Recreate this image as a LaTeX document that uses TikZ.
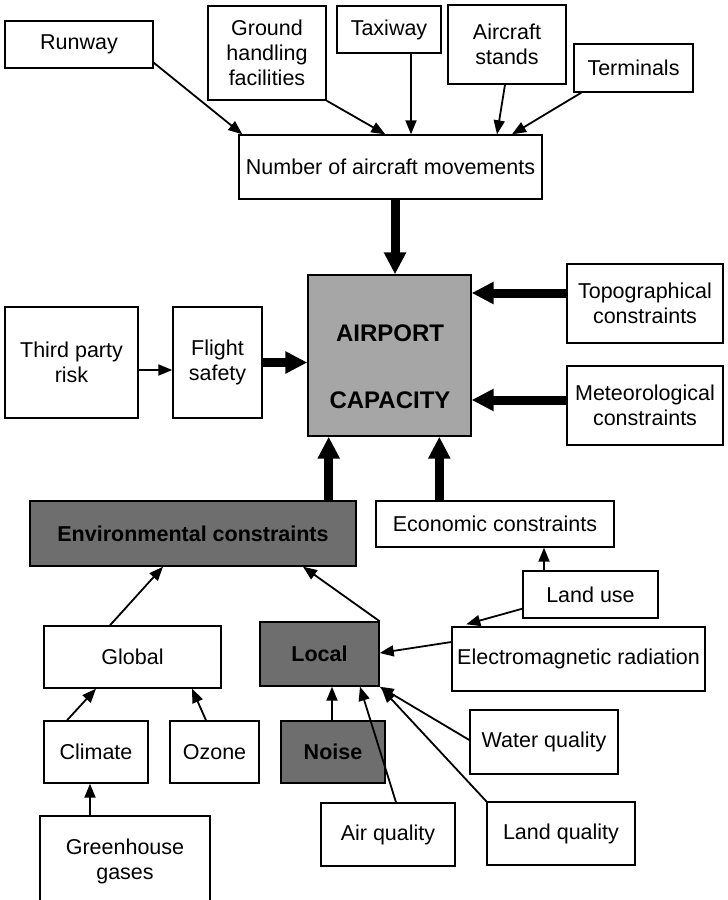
\documentclass[tikz,border=0pt]{standalone}
\usepackage{fontspec}
\setmainfont{Liberation Sans}
\usetikzlibrary{arrows.meta,calc}
\definecolor{capgray}{gray}{0.65}
\definecolor{envgray}{gray}{0.43}
\newcommand{\fsz}{\fontsize{21.5}{25}\selectfont}
\tikzset{
  box/.style={draw, line width=1.4pt, inner sep=0pt, align=center, font=\fsz, fill=white},
  darkbox/.style={box, fill=envgray, font=\fsz\bfseries},
  thin/.style={line width=1.8pt, -{Triangle[length=14pt,width=11pt]}},
  thick/.style={line width=9pt, -{Triangle[length=22pt,width=21pt]}},
  bold/.style={font=\fontsize{24}{28}\selectfont\bfseries, inner sep=0pt}
}
\begin{document}
\begin{tikzpicture}[x=1pt,y=-1pt]
\useasboundingbox (0,0) rectangle (728,900);
\clip (0,0) rectangle (728,900);
% top row
\node[box, minimum width=148pt, minimum height=47pt] (runway) at (79,44.5) {Runway};
\node[box, minimum width=118pt, minimum height=94pt] (ground) at (267,53) {Ground\\handling\\facilities};
\node[box, minimum width=104pt, minimum height=47pt] (taxiway) at (389,29.5) {Taxiway};
\node[box, minimum width=118pt, minimum height=79pt] (stands) at (507,44.5) {Aircraft\\stands};
\node[box, minimum width=119pt, minimum height=48pt] (terminals) at (633.5,68) {Terminals};
\node[box, minimum width=303pt, minimum height=64pt] (number) at (390.5,167) {Number of aircraft movements};
% middle
\node[box, minimum width=133pt, minimum height=111pt] (third) at (71.5,362.5) {Third party\\risk};
\node[box, minimum width=89pt, minimum height=111pt] (flight) at (217.5,362.5) {Flight\\safety};
\node[box, fill=capgray, minimum width=163pt, minimum height=161pt] (airport) at (389.5,355.5) {};
\node[bold] (apt1) at (390,333) {AIRPORT};
\node[bold] (apt2) at (390,400) {CAPACITY};
\node[box, minimum width=156pt, minimum height=79pt] (topo) at (645,303.5) {Topographical\\constraints};
\node[box, minimum width=156pt, minimum height=79pt] (meteo) at (645,405.5) {Meteorological\\constraints};
% lower
\node[darkbox, minimum width=326pt, minimum height=65pt] (env) at (193,533.5) {Environmental constraints};
\node[box, minimum width=238pt, minimum height=46pt] (econ) at (495,524) {Economic constraints};
\node[box, minimum width=135pt, minimum height=47pt] (landuse) at (590.5,594.5) {Land use};
\node[box, minimum width=177pt, minimum height=62pt] (global) at (132.5,657) {Global};
\node[darkbox, minimum width=119pt, minimum height=64pt] (local) at (319.5,654) {Local};
\node[box, minimum width=253pt, minimum height=64pt] (electro) at (578.5,659) {Electromagnetic radiation};
\node[box, minimum width=104pt, minimum height=62pt] (climate) at (96,752) {Climate};
\node[box, minimum width=89pt, minimum height=62pt] (ozone) at (214.5,752) {Ozone};
\node[darkbox, minimum width=104pt, minimum height=62pt] (noise) at (333,752) {Noise};
\node[box, minimum width=148pt, minimum height=64pt] (water) at (544,742) {Water quality};
\node[box, minimum width=134pt, minimum height=63pt] (air) at (388,834.5) {Air quality};
\node[box, minimum width=148pt, minimum height=63pt] (landq) at (561,833.5) {Land quality};
\node[box, minimum width=170pt, minimum height=90pt] (green) at (125,861) {Greenhouse\\gases};
% top arrows
\draw[thin] ($(runway.south east)+(0,-6)$) -- ($(number.north west)+(4,0)$);
\draw[thin] (ground.south east) -- ($(number.north west)+(147,0)$);
\coordinate (tx) at ($(taxiway.south)+(22,0)$);
\draw[thin] (tx) -- (tx |- number.north);
\draw[thin] ($(stands.south)+(-2,0)$) -- ($(number.north)+(106.5,0)$);
\draw[thin] ($(terminals.south west)+(8,0)$) -- ($(number.north)+(121.5,0)$);
% thick arrows into airport
\coordinate (nb) at ($(number.south)+(4.5,0)$);
\draw[thick] (nb) -- (nb |- airport.north);
\draw[thin] ($(third.east)+(0,7.5)$) -- ($(flight.west)+(0,7.5)$);
\draw[thick] (flight.east) -- (flight.east -| airport.west);
\coordinate (tp) at ($(topo.west)+(0,-10.5)$);
\draw[thick] (tp) -- (tp -| airport.east);
\coordinate (mt) at ($(meteo.west)+(0,-5.5)$);
\draw[thick] (mt) -- (mt -| airport.east);
\coordinate (en) at ($(env.north east)+(-28,0)$);
\draw[thick] (en) -- (en |- airport.south);
\coordinate (ec) at ($(econ.north west)+(64,0)$);
\draw[thick] (ec) -- (ec |- airport.south);
% lower arrows
\draw[thin] ($(global.north)+(-22.5,0)$) -- ($(env.south)+(-30,0)$);
\draw[thin] (local.north east) -- ($(env.south)+(110,0)$);
\draw[thin] ($(climate.north)+(-29,0)$) -- ($(global.south)+(-36.5,0)$);
\draw[thin] ($(ozone.north)+(-8.5,0)$) -- ($(global.south)+(59.5,0)$);
\coordinate (gh) at ($(green.north)+(-35,0)$);
\draw[thin] (gh) -- (gh |- climate.south);
\coordinate (nz) at ($(noise.north)+(-1,0)$);
\draw[thin] (nz) -- (nz |- local.south);
\coordinate (lu) at ($(landuse.north)+(-46.5,0)$);
\draw[thin] (lu) -- (lu |- econ.south);
\draw[thin] ($(landuse.south west)+(0,-10)$) -- ($(electro.north west)+(15,-2)$);
\draw[thin] ($(electro.west)+(0,-17)$) -- ($(local.east)+(0,-1)$);
\draw[thin] ($(water.west)+(0,-2)$) -- (local.south east);
\draw[thin] (landq.north west) -- ($(local.south east)+(2,2)$);
\draw[thin] ($(air.north)+(8,0)$) -- ($(local.south)+(40.5,0)$);
\end{tikzpicture}
\end{document}
